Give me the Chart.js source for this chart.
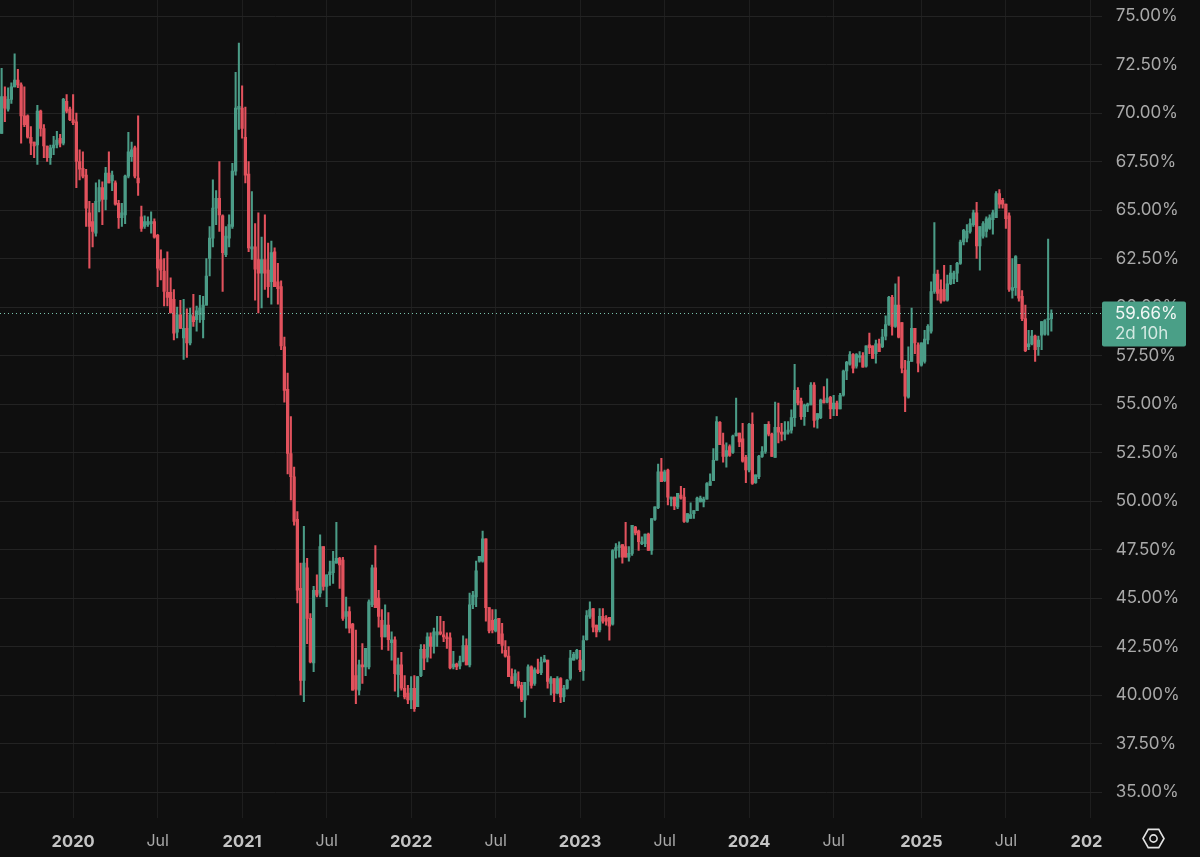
<!DOCTYPE html>
<html>
<head>
<meta charset="utf-8">
<title>Weekly candles</title>
<script src="https://cdn.jsdelivr.net/npm/chart.js@4/dist/chart.umd.min.js"></script>
<style>
  html, body { margin: 0; padding: 0; background: #0f0f0f; }
  #wrap { width: 1200px; height: 857px; }
</style>
</head>
<body>
<div id="wrap"><canvas id="chart" width="1200" height="857"></canvas></div>
<script>
const opens = [
  68.95,70.85,70.2,70.7,71.35,71.7,71.45,69.85,69.85,68.75,
  68.5,68.35,70.1,69.2,68.3,67.7,68.2,68.35,68.7,68.45,
  70.6,70.2,69.65,69.55,67.5,67.15,66.8,64.85,64.4,63.8,
  65.45,66.15,65.55,66.9,66.5,66.4,65.35,64.6,64.75,66.75,
  67.75,68.2,66.65,64.65,64.15,64.25,64.3,64.4,63.7,62.45,
  61.85,60.75,60.75,60.4,58.7,59.6,58.4,58.9,58.15,59.5,
  59.35,59.6,59.35,60.1,62.5,63.55,65.1,65.6,64.7,62.7,
  63.55,64.15,67,70.2,70.25,68.75,66.85,63,63.1,62.45,
  61.75,62.45,61.9,61.3,62.85,61.3,61.05,57.95,55.75,52.45,
  51.25,49.05,45.5,40.75,46.55,43.95,41.65,45.4,45.25,47.65,
  45.6,46.2,46.3,46.8,47.05,46.95,44.05,44.3,43.65,41,
  40.25,41.55,41.45,41.45,44.65,46.55,45,43.85,43,43.6,
  42.7,42.85,41.05,41.55,40.35,40.1,39.75,40.35,39.4,41,
  42.35,41.95,43,42.5,43.1,43.25,43.1,43,42.95,41.45,
  41.6,41.5,41.75,42.55,41.55,44.65,45.05,46.9,46.9,48.05,
  44.5,43.85,43.3,43.95,43.15,42.3,42,40.95,40.75,40.7,
  40.5,39.75,40.7,41.45,40.6,41.3,41.15,41.7,41.8,40.6,
  40.85,40.1,40.85,39.9,40.34,40.85,41.8,41.9,41.8,41.25,
  42.85,44.05,44.45,43.6,43.35,44.05,43.95,44,43.65,47.45,
  47.6,47.75,47.65,47.1,47.3,48.65,48.45,47.8,47.8,48.3,
  47.45,49.05,49.65,51.5,51.05,51.6,50.1,50.2,49.7,50.3,
  50.2,48.95,49.1,49.35,49.5,49.95,49.95,50.1,50.8,51.05,
  52.1,54.05,52.9,52.3,52.8,52.5,53.35,53.5,53.2,52.25,
  51.6,53.95,50.95,51.25,52.3,52.55,53.95,53.45,52.25,53.8,
  53.55,53.45,53.55,53.65,54.3,55.7,55.15,54.35,54.9,54.95,
  55.97,54.2,54.3,55.2,55.1,55.35,54.75,55.05,54.75,55.45,
  56.7,57.05,57.55,56.95,57.4,57.5,56.95,58.05,58,57.6,
  58.1,57.95,58.5,59.1,60.5,59,60.1,59.2,56.75,55.35,
  57.2,58.9,58.05,57,57.2,58.3,58.75,60.8,61.7,60.9,
  60.9,60.35,61.2,61.45,61.75,62.25,63.35,63.55,63.9,64.25,
  64.85,63.15,63.65,63.9,64.05,64.5,64.6,65.85,65.5,65.3,
  64.7,60.85,61,62.2,60.55,59.4,57.95,58.1,58.5,57.95,
  58.55,58.6,59.35,59.4
];
const highs = [
  72.3,71.35,71.3,71.55,73.05,72.25,71.55,71.35,69.9,69.3,
  68.5,70.4,70.15,69.4,68.3,68.35,68.8,69.05,68.9,70.75,
  70.95,70.3,70.95,70,68.1,68,67.1,65.45,65.35,66.4,
  66.55,66.45,67.2,68,67,66.5,65.5,65.35,66.8,69,
  68.5,68.3,69.85,65.2,64.7,64.65,64.9,64.55,63.75,62.95,
  62.5,62.85,61.5,60.9,60,60.35,60.4,59.9,59.95,60.65,
  60.05,60.6,60.55,62.5,64.15,66.55,66,67.5,64.75,64.15,
  64.75,67.4,72.1,73.6,71.4,70.3,67.5,65.95,64.3,64.85,
  63.6,64.75,63.3,63.4,63.05,62.25,61.35,58.45,56.6,54.35,
  51.75,49.45,46.8,48.7,47.05,44.2,45.6,46.2,48.25,47.65,
  46.2,46.9,47.4,48.9,47.1,47.1,45.05,44.55,43.7,43.35,
  41.8,42.65,42.4,44.9,46.7,47.7,45.4,44.4,44.65,44.25,
  43.25,43,41.9,42.2,41,40.5,40.95,41,40.95,42.6,
  42.6,43.2,43.2,43.45,44.05,44.05,43.8,43.2,43.2,42.25,
  41.65,42,43.05,42.9,45.25,45.35,46.9,47.15,48.45,48.05,
  44.5,44.4,44.4,43.95,43.7,42.8,42.5,41.35,41.3,41.2,
  40.65,40.65,41.55,41.5,41.4,41.85,41.95,42.05,41.8,40.95,
  40.85,40.95,40.9,40.5,40.8,42.3,42.2,42.35,42.3,43.05,
  44.35,44.8,44.45,43.6,44.45,44.45,44.1,44,47.5,47.8,
  47.9,47.75,48.9,47.65,48.75,48.7,48.5,48.15,48.3,48.35,
  49.1,49.7,51.9,52.2,51.6,51.65,50.2,50.2,50.4,50.75,
  50.65,49.35,49.9,49.5,50.2,50.25,50.2,50.95,51.4,52.7,
  54.35,54.1,53.5,53,52.9,53.4,55.3,53.5,54,52.35,
  54,54.55,51.35,52.35,52.8,53.95,54.1,53.5,55.1,55.05,
  54,54.1,54.1,54.7,57.05,55.85,55.3,55,55.05,56.1,
  56.1,54.5,55.25,55.9,56.3,55.4,55.45,55.15,55.55,56.75,
  57.2,57.7,57.6,57.6,57.7,57.65,58,58.65,58,58.3,
  58.35,58.85,59.55,60.55,60.6,61.2,61.55,59.2,57.25,57.95,
  59.95,58.9,58.15,58.15,58.8,59.1,61.3,64.35,61.9,61.4,
  62.15,61.65,62.15,61.85,62.3,63.45,64,64.25,64.55,65,
  65.4,64.15,64.4,64.65,64.75,65,65.95,66.05,65.6,65.3,
  64.85,62.5,62.65,62.2,60.85,60.1,58.8,58.8,58.55,58.5,
  59.25,59.35,63.5,59.85
];
const lows = [
  68.95,69.55,70.1,70.5,71.35,71.3,68.45,69.3,68.7,67.85,
  67.7,67.35,68.8,67.7,67.5,67.35,67.85,68.2,68.25,68.35,
  70,69.6,69.4,66.15,66.55,66.65,64.15,62,63.1,63.65,
  64.9,64.25,65,66.4,66,65.25,64.05,64.15,64.3,66.65,
  67.5,66.65,65.75,63.9,64.05,64.15,63.8,63.55,61.05,61.4,
  60.05,60.05,59.7,58.3,58.4,58.9,57.3,57.4,58.05,59,
  58.75,59.2,58.4,60.1,61.6,63.1,64.25,63.9,60.8,62.6,
  63.1,64.05,66.8,69.15,68.7,66.4,62.85,62.45,60.35,59.7,
  59.95,60.9,60.5,60.15,61.05,60.15,57.8,55.1,51.4,50.05,
  48.75,44.75,40,39.65,42.65,41.65,41.2,45.05,45.05,45.4,
  44.55,45.65,45.75,46.8,45.5,43.85,43.45,43.2,40.25,39.55,
  40,40.6,41,41.35,44.55,44.5,43.5,42.35,43,42.3,
  41.8,40.2,39.9,40.25,39.8,39.55,39.3,39.15,39.4,40.95,
  41.3,41.7,41.9,42.15,42.5,43.1,42.75,42.4,41.35,41.35,
  41.3,41.35,41.7,41.55,41.45,44.45,44.55,46.85,46.85,43.8,
  43.2,43.2,43.25,42.65,42.15,41.95,40.95,40.6,40.45,40.35,
  39.65,38.85,40,40.35,40.5,41.1,41.05,41.7,40.35,40,
  39.65,40.05,39.6,39.65,40.3,40.77,41.8,41.85,41.2,40.75,
  42.83,43.95,43.25,43,43.25,43.7,43.6,42.83,43.6,47.05,
  47.1,46.8,47.1,46.9,47.2,48.25,47.45,47.75,47.65,47.45,
  47.25,49,49.6,51,51,49.8,49.75,49.55,49.6,50.1,
  48.9,48.9,49.1,49.1,49.5,49.95,49.7,50.1,50.8,51.05,
  52.1,52.9,52,51.75,52.3,52.45,53.35,52.8,52,50.95,
  51.5,50.85,50.9,51.15,52.25,52.45,53.35,52.3,52.25,53,
  53.1,53.15,53.45,53.5,53.85,54.95,54.2,53.9,54.6,54.95,
  53.8,53.75,54.25,55.05,55.05,54.25,54.4,54.4,54.75,55.4,
  56.25,57,56.6,56.85,57.15,56.9,56.9,57.6,57.35,57.1,
  57.7,57.9,58.3,59.05,58.55,58.95,58.4,56.6,54.6,55.3,
  57.2,57.6,56.65,56.95,57.1,58.1,58.65,60.7,60.35,60.2,
  60.3,60.3,61.15,61.2,61.3,62.2,63.2,63.35,63.8,64.15,
  62.5,61.9,63.55,63.6,64,63.75,64.6,65.1,65.1,64.05,
  60.8,60.45,60.6,60.3,59.3,57.7,57.8,58.05,57.2,57.5,
  57.8,58.55,58.55,58.75
];
const closes = [
  70.85,70.25,70.7,71.35,71.7,71.45,69.85,69.4,68.75,68.45,
  68.3,70.1,69.2,68.3,67.7,68.2,68.35,68.6,68.45,70.7,
  70.1,69.65,69.5,67.5,67.1,66.75,65.1,64.15,63.9,65.45,
  66.15,65.55,66.9,66.4,66.8,65.3,64.6,64.85,66.75,68,
  68.1,66.75,66.4,64.05,64.4,64.4,64.4,63.6,62,61.9,
  60.8,60.5,59.7,58.65,59.6,58.9,58.9,58.15,59.6,59.25,
  59.8,59.95,60.1,61.6,63.55,65.1,65.6,64.75,62.8,63.65,
  64.25,67,70.25,70.35,69.2,66.8,63.05,63.1,61.95,61.75,
  62.45,61.75,61.05,62.8,61.05,60.95,58,55.7,52.45,51.25,
  48.95,45.4,40.75,46.8,43.95,41.7,45.4,45.15,47.65,45.6,
  46.2,46.35,46.9,47.05,46.7,43.95,44.3,43.45,40.25,40.3,
  41.55,41.45,42.4,44.8,46.55,44.5,44.05,43,43.6,42.85,
  42.85,41.1,41.55,40.35,39.9,39.75,40.35,39.3,40.95,42.35,
  41.9,43,42.5,43.25,43.25,43.15,43,42.9,41.4,41.6,
  41.45,41.75,42.55,41.55,44.65,45.15,46.4,47.15,48.05,44.5,
  43.3,43.35,43.9,42.65,42.55,42,40.95,40.6,41.1,40.45,
  39.75,40.65,41.45,40.5,41.3,41.15,41.7,41.85,40.7,40.85,
  40.1,40.85,39.9,40.34,40.77,41.9,42.1,42.3,41.3,42.8,
  44.1,44.4,43.5,43.25,44.05,43.8,43.8,43.55,47.45,47.6,
  47.7,47.1,47.1,47.3,48.75,48.35,47.9,47.9,48.3,47.45,
  49.1,49.7,51.5,51,51.5,50.2,50.2,49.75,50.4,50.15,
  48.95,49.35,49.3,49.5,50.15,50.15,50.1,50.9,51,52.1,
  54.1,52.9,52.3,52.6,52.35,53.35,53.5,53.05,52.05,51.6,
  53.95,50.9,51.35,52.3,52.55,53.95,53.45,52.3,53.8,53.55,
  53.45,53.55,53.65,54.3,55.7,55.05,54.35,54.95,55,55.97,
  54.15,54.5,55.2,55.05,55.3,54.75,55.05,54.75,55.45,56.7,
  57.15,57.55,56.85,57.55,57.5,56.9,58,57.9,57.35,58.1,
  57.7,58.45,59.1,60.5,59,60.1,58.45,56.85,55.4,57.2,
  58.9,58.15,57.1,58.15,58.35,59,60.8,61.7,60.7,60.3,
  60.35,61.2,61.75,61.75,62.25,63.35,63.95,63.9,64.3,64.85,
  63.15,64.15,64.3,64.55,64.6,64.85,65.85,65.3,65.3,64.55,
  60.9,61,62.6,60.45,59.4,57.75,58.1,58.5,57.8,58.3,
  59.25,59.3,59.4,59.66
];

// x axis keeps empty weeks after the last candle
const WEEK_COUNT = 339;
const categories = [];
for (let i = 0; i < WEEK_COUNT; i++) {
  categories.push(new Date(Date.UTC(2019, 7, 5) + i * 7 * 864e5).toISOString().slice(0, 10));
}

const tickDates = ['2020-01-06','2020-07-06','2021-01-04','2021-07-05','2022-01-03','2022-07-04','2023-01-02','2023-07-03','2024-01-01','2024-07-01','2025-01-06','2025-07-07','2026-01-05'];
const tickLabels = ['2020','Jul','2021','Jul','2022','Jul','2023','Jul','2024','Jul','2025','Jul','202\u00a0\u00a0'];
const yTicks = [35,37.5,40,42.5,45,47.5,50,52.5,55,57.5,60,62.5,65,67.5,70,72.5,75];
const priceLabel = '59.66%';
const countdownLabel = '2d 10h';

const BG = '#0f0f0f';
const GREEN = '#4b9c87';
const RED = '#e2525d';
const FONT = 'Inter, "Noto Sans", sans-serif';

const candleColors = closes.map((c, i) => c >= opens[i] ? GREEN : RED);

const overlay = {
  id: 'overlay',
  beforeDraw(chart) {
    const { ctx, width, height } = chart;
    ctx.save();
    ctx.fillStyle = BG;
    ctx.fillRect(0, 0, width, height);
    ctx.restore();
  },
  afterDraw(chart) {
    const { ctx, scales } = chart;
    const last = closes[closes.length - 1];
    const y = scales.y.getPixelForValue(last);

    // dotted last price line
    ctx.save();
    ctx.strokeStyle = '#7cc4ae';
    ctx.lineWidth = 1;
    ctx.setLineDash([1, 3]);
    ctx.beginPath();
    ctx.moveTo(0, Math.floor(y) + 0.5);
    ctx.lineTo(1102, Math.floor(y) + 0.5);
    ctx.stroke();
    ctx.setLineDash([]);

    // price tag
    ctx.fillStyle = '#4a9f87';
    ctx.beginPath();
    ctx.roundRect(1102, y - 12, 84, 45, 2);
    ctx.fill();
    ctx.font = '17px ' + FONT;
    ctx.textBaseline = 'middle';
    ctx.textAlign = 'left';
    ctx.fillStyle = '#f2f7f5';
    ctx.fillText(priceLabel, 1115, y + 0.5);
    ctx.fillStyle = '#d3e9e2';
    ctx.fillText(countdownLabel, 1115, y + 20);

    // settings icon
    const cx = 1153.5, cy = 838.5;
    ctx.strokeStyle = '#e2e2e2';
    ctx.lineWidth = 1.6;
    ctx.beginPath();
    for (let a = 0; a < 6; a++) {
      const ang = Math.PI / 3 * a;
      const px = cx + 10.5 * Math.cos(ang), py = cy + 10.5 * Math.sin(ang);
      if (a === 0) ctx.moveTo(px, py); else ctx.lineTo(px, py);
    }
    ctx.closePath();
    ctx.stroke();
    ctx.beginPath();
    ctx.arc(cx, cy, 3.6, 0, Math.PI * 2);
    ctx.stroke();
    ctx.restore();
  }
};

new Chart(document.getElementById('chart').getContext('2d'), {
  type: 'bar',
  data: {
    labels: categories,
    datasets: [
      {
        label: 'Body',
        data: opens.map((o, i) => [o, closes[i]]),
        backgroundColor: candleColors,
        barThickness: 2.6,
        grouped: false,
      },
      {
        label: 'Wick',
        data: lows.map((l, i) => [l, highs[i]]),
        backgroundColor: candleColors,
        barThickness: 1.4,
        grouped: false,
      },
    ],
  },
  plugins: [overlay],
  options: {
    responsive: false,
    animation: false,
    layout: { padding: 0 },
    plugins: { legend: { display: false }, tooltip: { enabled: false } },
    scales: {
      x: {
        grid: { color: '#1e1e1e', lineWidth: 1, drawTicks: false, offset: false },
        border: { display: false },
        afterBuildTicks(scale) {
          scale.ticks = tickDates.map(d => ({ value: categories.indexOf(d) }));
        },
        afterFit(scale) {
          scale.height = 39;
          scale.paddingLeft = 0;
          scale.paddingRight = 0;
        },
        ticks: {
          autoSkip: false,
          maxRotation: 0,
          padding: 14,
          color: ctx => ctx.index % 2 === 0 ? '#c4c4c4' : '#a8a8a8',
          font: ctx => ({ family: FONT, size: ctx.index % 2 === 0 ? 16.5 : 16, weight: ctx.index % 2 === 0 ? '700' : '400' }),
          callback: (value, index) => tickLabels[index],
        },
      },
      y: {
        position: 'right',
        min: 33.66,
        max: 75.825,
        grid: { color: '#232323', lineWidth: 1, drawTicks: false },
        border: { display: false },
        afterBuildTicks(scale) {
          scale.ticks = yTicks.map(v => ({ value: v }));
        },
        afterFit(scale) {
          scale.width = 98.25;
          scale.paddingTop = 0;
          scale.paddingBottom = 0;
        },
        ticks: {
          padding: 14,
          color: '#a9a9a9',
          font: { family: FONT, size: 17 },
          callback: v => v.toFixed(2) + '%',
        },
      },
    },
  },
});
</script>
</body>
</html>
